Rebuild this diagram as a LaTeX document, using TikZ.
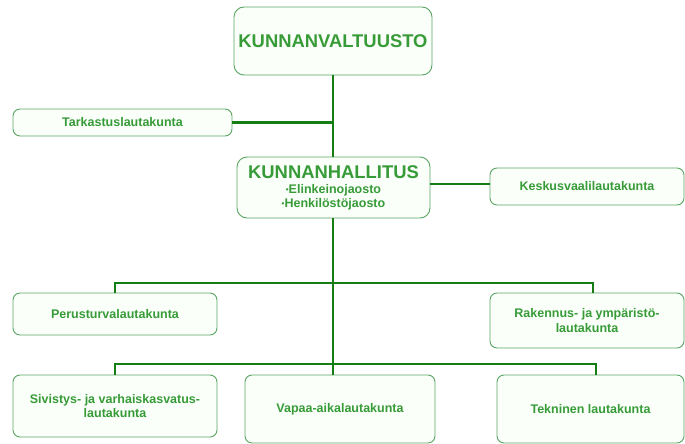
\documentclass[tikz,border=0pt]{standalone}
\usepackage{fontspec}
\setmainfont{Liberation Sans}
\definecolor{linegreen}{RGB}{20,125,20}
\definecolor{boxgreen}{RGB}{90,165,100}
\definecolor{txtgreen}{RGB}{55,155,55}
\newcommand{\smbul}{{\fontsize{8}{8}\selectfont\raisebox{1pt}{•}}}
\begin{document}
\begin{tikzpicture}[x=1pt,y=-1pt,
  box/.style={draw=boxgreen,line width=0.9pt,fill=green!2,rounded corners=7pt,
    inner sep=0pt,align=center,text=txtgreen,font=\fontsize{12.5}{14.5}\selectfont\bfseries},
  bigbox/.style={box,rounded corners=10pt},
  conn/.style={draw=linegreen,line width=2.2pt}]
\useasboundingbox (0,0) rectangle (685,444);
\coordinate (b1) at (333,283);
\coordinate (b2) at (333,364);
\node[bigbox,minimum width=198pt,minimum height=68pt,font=\fontsize{18.4}{20}\selectfont\bfseries] (valt) at (333,41) {KUNNANVALTUUSTO};
\node[box,minimum width=219pt,minimum height=27pt] (tark) at (122.5,122.5) {Tarkastuslautakunta};
\node[bigbox,minimum width=193pt,minimum height=61pt,font=\fontsize{12.5}{13.5}\selectfont\bfseries] (hall) at (333.5,187.5)
  {{\fontsize{18.4}{20}\selectfont KUNNANHALLITUS}\\[2pt]\smbul Elinkeinojaosto\\\smbul Henkilöstöjaosto};
\node[box,minimum width=194pt,minimum height=37pt] (kesk) at (587,186.5) {Keskusvaalilautakunta};
\node[box,minimum width=204pt,minimum height=42pt] (peru) at (115,314) {Perusturvalautakunta};
\node[box,minimum width=194pt,minimum height=55pt] (rak) at (587,320.5) {Rakennus- ja ympäristö-\\lautakunta};
\node[box,minimum width=204pt,minimum height=62pt] (siv) at (115,406) {Sivistys- ja varhaiskasvatus-\\lautakunta};
\node[box,minimum width=190pt,minimum height=68pt] (vapaa) at (340,409) {Vapaa-aikalautakunta};
\node[box,minimum width=187pt,minimum height=68pt] (tek) at (590.5,409) {Tekninen lautakunta};
\draw[conn] (valt.south -| b1) -- (hall.north -| b1);
\draw[conn] (tark.east) -- (tark.east -| b1);
\draw[conn] (hall.east |- 0,184) -- (kesk.west |- 0,184);
\draw[conn] (hall.south -| b1) -- (vapaa.north -| b1);
\draw[conn] (peru.north) |- (b1) -| ([xshift=6pt]rak.north);
\draw[conn] (siv.north) |- (b2) -| ([xshift=5.5pt]tek.north);
\end{tikzpicture}
\end{document}
